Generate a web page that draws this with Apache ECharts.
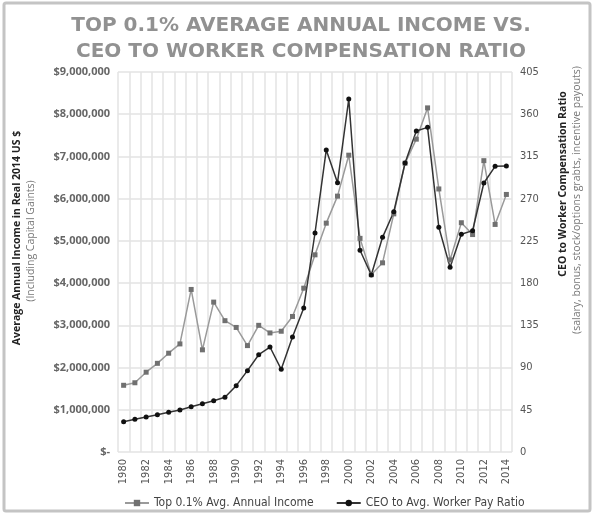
<!DOCTYPE html>
<html><head><meta charset="utf-8">
<script src="https://cdn.jsdelivr.net/npm/echarts@6/dist/echarts.min.js"></script>
<style>html,body{margin:0;padding:0;background:#fff}#c{width:600px;height:516px}</style>
</head><body><div id="c"></div>
<script>
const years = [];
for (let y = 1980; y <= 2014; y++) years.push(String(y));
const topIncome = [1580000,1640000,1890000,2100000,2340000,2560000,3850000,2420000,3550000,3110000,2950000,2520000,3000000,2820000,2860000,3210000,3880000,4670000,5420000,6060000,7030000,5060000,4200000,4480000,5640000,6840000,7410000,8150000,6230000,4550000,5430000,5150000,6900000,5390000,6100000];
const ceoRatio = [32.3,34.8,37.3,39.8,42.3,44.8,48.3,51.5,54.7,58.3,70.7,86.7,103.7,111.9,88.1,122.6,153.5,233.4,321.9,287,376.2,215,188.6,228.8,256.1,308,342.1,346,239.5,196.8,232,235.9,286.7,304.5,304.8];
const titleLines = ['TOP 0.1% AVERAGE ANNUAL INCOME VS.', 'CEO TO WORKER COMPENSATION RATIO'];
const seriesNames = ['Top 0.1% Avg. Annual Income', 'CEO to Avg. Worker Pay Ratio'];

const chart = echarts.init(document.getElementById('c'));
const cond = 'DejaVu Sans Condensed';
chart.setOption({
  animation: false,
  title: {
    text: titleLines.join('\n'),
    left: 296, top: 8, textAlign: 'center',
    textStyle: { fontFamily: 'DejaVu Sans', fontWeight: 'bold', fontSize: 20, color: '#919191', lineHeight: 26 }
  },
  graphic: [
    { type: 'rect', shape: { x: 4, y: 3, width: 586, height: 508, r: 2 }, style: { fill: 'none', stroke: '#c4c4c4', lineWidth: 3 } },
    { type: 'text', x: 17, y: 238, rotation: Math.PI / 2, style: { text: 'Average Annual Income in Real 2014 US $', fontFamily: 'Open Sans', fontWeight: 'bold', fontSize: 10.5, fill: '#222', align: 'center', verticalAlign: 'middle' } },
    { type: 'text', x: 31, y: 241, rotation: Math.PI / 2, style: { text: '(Including Capital Gaints)', fontFamily: 'Open Sans', fontSize: 10.5, fill: '#777', align: 'center', verticalAlign: 'middle' } },
    { type: 'text', x: 563, y: 184, rotation: Math.PI / 2, style: { text: 'CEO to Worker Compensation Ratio', fontFamily: 'Open Sans', fontWeight: 'bold', fontSize: 10.5, fill: '#222', align: 'center', verticalAlign: 'middle' } },
    { type: 'text', x: 577, y: 200, rotation: Math.PI / 2, style: { text: '(salary, bonus, stock/options grabts, incentive payouts)', fontFamily: 'Open Sans', fontSize: 10.5, fill: '#777', align: 'center', verticalAlign: 'middle' } }
  ],
  legend: {
    top: 492, left: 119, itemWidth: 24, itemHeight: 8, itemGap: 22,
    textStyle: { fontFamily: cond, fontSize: 12, color: '#444' },
    data: seriesNames
  },
  grid: { left: 118, right: 88, top: 72, bottom: 64 },
  xAxis: {
    type: 'category', data: years, boundaryGap: true,
    axisLine: { show: false }, axisTick: { show: false },
    axisLabel: { interval: 1, rotate: 90, fontFamily: cond, fontSize: 11, color: '#555', margin: 7 },
    splitLine: { show: true, interval: 0, lineStyle: { color: '#e3e3e3', width: 1.5 } }
  },
  yAxis: [
    {
      type: 'value', min: 0, max: 9000000, interval: 1000000,
      axisLine: { show: false }, axisTick: { show: false },
      axisLabel: { fontFamily: 'Open Sans', fontWeight: 'bold', fontSize: 11, color: '#666', margin: 8,
        formatter: v => v === 0 ? '$-' : '$' + v.toLocaleString('en-US') },
      splitLine: { lineStyle: { color: '#e3e3e3', width: 1.5 } }
    },
    {
      type: 'value', min: 0, max: 405, interval: 45,
      axisLine: { show: false }, axisTick: { show: false },
      axisLabel: { fontFamily: cond, fontSize: 11, color: '#555', margin: 8 },
      splitLine: { show: false }
    }
  ],
  series: [
    { name: seriesNames[0], type: 'line', yAxisIndex: 0, data: topIncome,
      symbol: 'rect', symbolSize: 5, lineStyle: { color: '#9a9a9a', width: 1.5 },
      itemStyle: { color: '#707070' } },
    { name: seriesNames[1], type: 'line', yAxisIndex: 1, data: ceoRatio,
      symbol: 'circle', symbolSize: 5, lineStyle: { color: '#333', width: 1.5 },
      itemStyle: { color: '#111' } }
  ]
});
</script></body></html>
